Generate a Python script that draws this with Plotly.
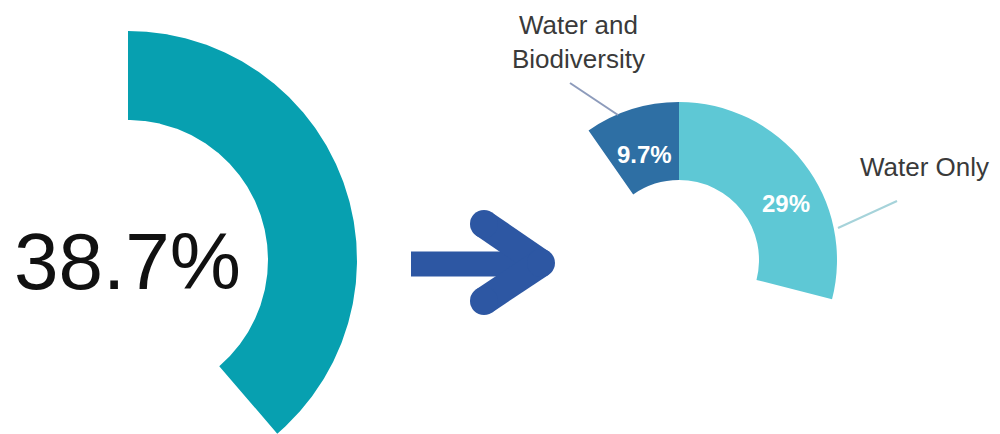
import numpy as np
import plotly.graph_objects as go

# Overall share shown as a single gauge arc on the left
total_share = [38.7]

# Breakdown of that share shown on the right-hand donut
segment_names = ["Water and Biodiversity", "Water Only"]
segment_values = [9.7, 29]
segment_labels = ["Water and<br>Biodiversity", "Water Only"]

# Colours
GAUGE_COLOR = "#07A0B0"
SEGMENT_COLORS = ["#2E6FA4", "#5EC8D5"]
ARROW_COLOR = "#2D57A3"
TEXT_COLOR = "#3a3a3a"
FONT = "Liberation Sans, Arial, sans-serif"

W, H = 1000, 434

# Gauge geometry (pixel-space axes)
CX, CY = 128, 260
R_OUT, R_IN = 229, 140

fig = go.Figure()

# Left gauge: annular sector from 12 o'clock, clockwise, sized by the share
theta = np.linspace(0, total_share[0] / 100 * 2 * np.pi, 300)
xo = CX + R_OUT * np.sin(theta)
yo = CY - R_OUT * np.cos(theta)
xi = CX + R_IN * np.sin(theta[::-1])
yi = CY - R_IN * np.cos(theta[::-1])
fig.add_trace(go.Scatter(
    x=np.concatenate([xo, xi, xo[:1]]),
    y=np.concatenate([yo, yi, yo[:1]]),
    mode="lines", fill="toself", fillcolor=GAUGE_COLOR,
    line=dict(width=0, color=GAUGE_COLOR), hoverinfo="skip",
    showlegend=False,
))

# Right donut: the two segments, with the rest of the circle left empty
rest = 100 - sum(segment_values)
DX, DY, DR = 679, 260, 158
fig.add_trace(go.Pie(
    values=segment_values + [rest],
    labels=segment_names + ["Other"],
    sort=False,
    direction="clockwise",
    rotation=-segment_values[0] / 100 * 360,
    hole=80 / 158,
    domain=dict(x=[(DX - DR) / W, (DX + DR) / W],
                y=[(H - DY - DR) / H, (H - DY + DR) / H]),
    marker=dict(colors=SEGMENT_COLORS + ["rgba(0,0,0,0)"],
                line=dict(width=0)),
    textinfo="none",
    hoverinfo="skip",
    showlegend=False,
))

# Value labels inside the donut segments
value_pos = [(644, 154), (786, 203)]
for v, (px, py) in zip(segment_values, value_pos):
    fig.add_annotation(
        x=px, y=py, xref="x", yref="y", text=f"{v:g}%",
        showarrow=False, xanchor="center", yanchor="middle",
        font=dict(family=FONT, size=24, color="white", weight="bold"),
    )

# Centre label of the gauge
fig.add_annotation(
    x=CX - 1, y=CY + 1, xref="x", yref="y", text=f"{total_share[0]}%",
    showarrow=False, xanchor="center", yanchor="middle",
    font=dict(family=FONT, size=80, color="#111111"),
)

# Segment name labels with leader lines
fig.add_annotation(
    x=578, y=42, xref="x", yref="y", text=segment_labels[0],
    showarrow=False, xanchor="center", yanchor="middle",
    font=dict(family=FONT, size=26, color=TEXT_COLOR),
)
fig.add_annotation(
    x=924, y=167, xref="x", yref="y", text=segment_labels[1],
    showarrow=False, xanchor="center", yanchor="middle",
    font=dict(family=FONT, size=26, color=TEXT_COLOR),
)

shapes = [
    dict(type="line", x0=570, y0=83, x1=618, y1=115, xref="x", yref="y",
         line=dict(color="#8d9bbb", width=2)),
    dict(type="line", x0=838, y0=228, x1=897, y1=201, xref="x", yref="y",
         line=dict(color="#a6d3da", width=2)),
]

# Arrow between the two charts
AW = 28
shaft_y = 264
tip = (541, 263)
arm_top = (484, 224)
arm_bot = (484, 301)
shapes.append(dict(type="line", x0=411, y0=shaft_y, x1=530, y1=shaft_y,
                   xref="x", yref="y", line=dict(color=ARROW_COLOR, width=25)))
for p in (arm_top, arm_bot):
    shapes.append(dict(type="line", x0=p[0], y0=p[1], x1=tip[0], y1=tip[1],
                       xref="x", yref="y",
                       line=dict(color=ARROW_COLOR, width=AW)))
for p in (arm_top, arm_bot, tip):
    shapes.append(dict(type="circle", x0=p[0] - AW / 2, y0=p[1] - AW / 2,
                       x1=p[0] + AW / 2, y1=p[1] + AW / 2,
                       xref="x", yref="y", fillcolor=ARROW_COLOR,
                       line=dict(width=0)))

fig.update_layout(
    width=W, height=H,
    margin=dict(l=0, r=0, t=0, b=0),
    paper_bgcolor="white", plot_bgcolor="white",
    xaxis=dict(range=[0, W], visible=False, fixedrange=True),
    yaxis=dict(range=[H, 0], visible=False, fixedrange=True),
    shapes=shapes,
    showlegend=False,
)

fig.write_html("out.html")
